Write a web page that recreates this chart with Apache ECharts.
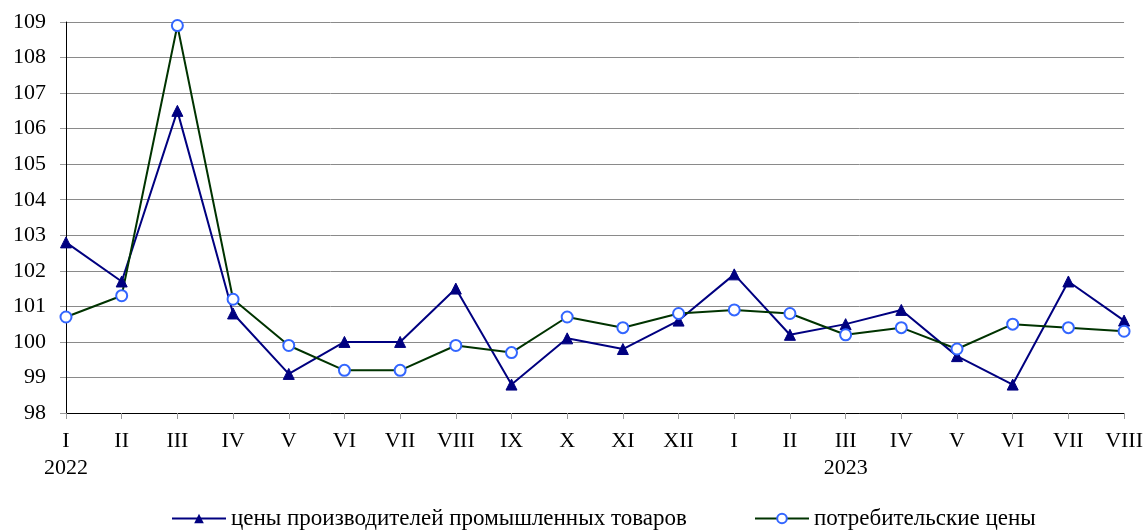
<!DOCTYPE html>
<html><head><meta charset="utf-8">
<script src="https://cdn.jsdelivr.net/npm/echarts@6/dist/echarts.min.js"></script>
<style>html,body{margin:0;padding:0;background:#fff}#c{width:1146px;height:530px}</style>
</head><body><div id="c"></div>
<script>
var categories = ['I\n2022','II','III','IV','V','VI','VII','VIII','IX','X','XI','XII','I','II','III\n2023','IV','V','VI','VII','VIII'];
var producerPrices = [102.8,101.7,106.5,100.8,99.1,100.0,100.0,101.5,98.8,100.1,99.8,100.6,101.9,100.2,100.5,100.9,99.6,98.8,101.7,100.6];
var consumerPrices = [100.7,101.3,108.9,101.2,99.9,99.2,99.2,99.9,99.7,100.7,100.4,100.8,100.9,100.8,100.2,100.4,99.8,100.5,100.4,100.3];
var seriesNames = ['цены производителей промышленных товаров','потребительские цены'];

var font = 'Liberation Serif, Times New Roman, serif';
var legendText = {fontFamily:font,fontSize:23,color:'#000'};
var chart = echarts.init(document.getElementById('c'));
chart.setOption({
  animation:false,
  backgroundColor:'#fff',
  grid:{left:66,right:20,top:22,bottom:117,containLabel:false},
  legend:[
    {top:507,left:171,padding:0,itemGap:5,itemWidth:54,itemHeight:12,textStyle:legendText,data:[seriesNames[0]]},
    {top:507,left:754,padding:0,itemGap:5,itemWidth:54,itemHeight:12,textStyle:legendText,data:[seriesNames[1]]}
  ],
  xAxis:{
    type:'category',boundaryGap:false,data:categories,
    axisLine:{lineStyle:{color:'#000',width:1}},
    axisTick:{show:true,length:6,lineStyle:{color:'#999'}},
    axisLabel:{fontFamily:font,fontSize:22,color:'#000',margin:15,lineHeight:27,interval:0}
  },
  yAxis:{
    type:'value',min:98,max:109,interval:1,
    axisLine:{show:true,lineStyle:{color:'#000'}},
    axisTick:{show:true,length:6,lineStyle:{color:'#999'}},
    axisLabel:{fontFamily:font,fontSize:22,color:'#000',margin:20},
    splitLine:{lineStyle:{color:'#8a8a8a',width:1}}
  },
  series:[
    {name:seriesNames[0],type:'line',data:producerPrices,
     symbol:'triangle',symbolSize:11,
     lineStyle:{color:'#000080',width:2},
     itemStyle:{color:'#000080',borderColor:'#000080'}},
    {name:seriesNames[1],type:'line',data:consumerPrices,
     symbol:'circle',symbolSize:11,
     lineStyle:{color:'#003300',width:2},
     itemStyle:{color:'#fff',borderColor:'#3366ff',borderWidth:2}}
  ]
});
</script></body></html>
